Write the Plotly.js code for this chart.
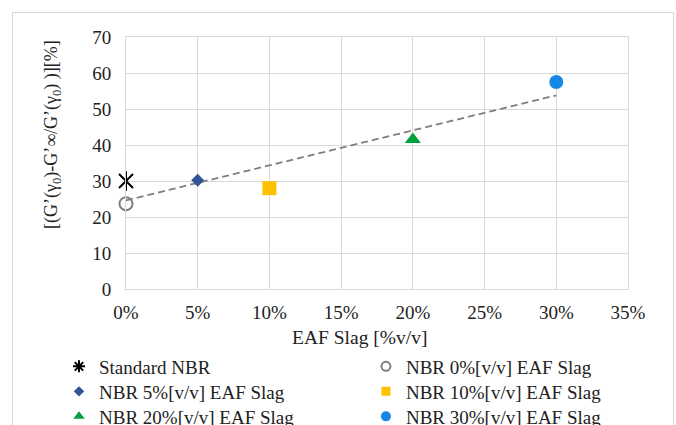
<!DOCTYPE html>
<html>
<head>
<meta charset="utf-8">
<script src="https://cdn.plot.ly/plotly-3.0.1.min.js"></script>
<style>
  html, body { margin: 0; padding: 0; background: #fff; }
  #chart { width: 676px; height: 425px; }
  #frame { position: absolute; left: 12px; top: 12px; width: 660px; height: 430px;
           border: 1.5px solid #d9d9d9; pointer-events: none; }
</style>
</head>
<body>
<div id="chart"></div>
<div id="frame"></div>
<script>
// ---- Data ----
const seriesNames = [
  "Standard NBR",
  "NBR 0%[v/v] EAF Slag",
  "NBR 5%[v/v] EAF Slag",
  "NBR 10%[v/v] EAF Slag",
  "NBR 20%[v/v] EAF Slag",
  "NBR 30%[v/v] EAF Slag"
];
const slagContent = [0, 0, 0.05, 0.10, 0.20, 0.30];      // EAF slag fraction
const decayValues = [30.0, 23.7, 30.2, 28.0, 41.5, 57.5];  // [%]
const xTickVals = [0, 0.05, 0.10, 0.15, 0.20, 0.25, 0.30, 0.35];
const xTickText = ["0%", "5%", "10%", "15%", "20%", "25%", "30%", "35%"];
const yTickVals = [0, 10, 20, 30, 40, 50, 60, 70];
const xTitle = "EAF Slag [%v/v]";
const yTitle = "[(G’(γ<sub>0</sub>)-G’∞/G’(γ<sub>0</sub>) )][%]";

// ---- Styles ----
const symbols   = ["x-thin-open", "circle-open", "diamond", "square", "triangle-up", "circle"];
const legSymbol = ["asterisk-open", "circle-open", "diamond", "square", "triangle-up", "circle"];
const colors    = ["#000000", "#808080", "#2f5597", "#ffc000", "#00a03e", "#1787e6"];
const sizes     = [14, 13, 10, 14, 14, 14];
const legSizes  = [10, 9, 8, 9, 10, 10];
const legendIds = ["legend", "legend2", "legend3", "legend4", "legend5", "legend6"];

const traces = [];

// Linear trendline: least squares over all points, drawn across the data's x range
const n = slagContent.length;
const mx = slagContent.reduce((a, b) => a + b, 0) / n;
const my = decayValues.reduce((a, b) => a + b, 0) / n;
let sxy = 0, sxx = 0;
for (let i = 0; i < n; i++) {
  sxy += (slagContent[i] - mx) * (decayValues[i] - my);
  sxx += (slagContent[i] - mx) ** 2;
}
const slope = sxy / sxx;
const intercept = my - slope * mx;
const trendX = [Math.min(...slagContent), Math.max(...slagContent)];
traces.push({
  x: trendX,
  y: trendX.map(v => intercept + slope * v),
  mode: "lines",
  line: { color: "#7f7f7f", width: 1.8, dash: "7px,4px" },
  showlegend: false,
  cliponaxis: false,
  hoverinfo: "skip"
});

for (let i = 0; i < seriesNames.length; i++) {
  const open = symbols[i].endsWith("open");
  traces.push({
    x: [slagContent[i]],
    y: [decayValues[i]],
    name: seriesNames[i],
    mode: "markers",
    showlegend: false,
    cliponaxis: false,
    marker: {
      symbol: symbols[i],
      size: sizes[i],
      color: colors[i],
      line: { color: colors[i], width: open ? 2 : 0 }
    }
  });
  if (i === 0) {
    // vertical bar of the Excel-style star marker
    traces.push({
      x: [slagContent[i]],
      y: [decayValues[i]],
      mode: "markers",
      showlegend: false,
      cliponaxis: false,
      marker: { symbol: "line-ns-open", size: 14, color: colors[i], line: { color: colors[i], width: 2 } }
    });
  }
}

// legend entries (smaller glyphs, as in the reference legend)
for (let i = 0; i < seriesNames.length; i++) {
  const open = legSymbol[i].endsWith("open");
  traces.push({
    x: [null],
    y: [null],
    name: seriesNames[i],
    mode: "markers",
    legend: legendIds[i],
    marker: {
      symbol: legSymbol[i],
      size: legSizes[i],
      color: colors[i],
      line: { color: colors[i], width: open ? 2 : 0 }
    }
  });
}

const font = "Liberation Serif";
const txt = "#222222";
const legendFont = { family: font, size: 19, color: txt };
const colX = [-0.1335, 0.478];
const rowY = [-0.2321, -0.3313, -0.4306];
function leg(col, row) {
  return {
    orientation: "v", xanchor: "left", yanchor: "top",
    x: colX[col], y: rowY[row],
    font: legendFont, bgcolor: "rgba(0,0,0,0)", itemsizing: "trace"
  };
}

const layout = {
  width: 676,
  height: 425,
  margin: { l: 126, r: 48, t: 37, b: 136, autoexpand: false },
  paper_bgcolor: "#ffffff",
  plot_bgcolor: "#ffffff",
  font: { family: font, size: 19, color: txt },
  xaxis: {
    range: [0, 0.35],
    tickvals: xTickVals,
    ticktext: xTickText,
    showgrid: true, gridcolor: "#d9d9d9", gridwidth: 1,
    showline: true, linecolor: "#d9d9d9", linewidth: 1, mirror: true,
    zeroline: false, ticks: "", ticklabelstandoff: 6, automargin: false,
    tickfont: { family: font, size: 19, color: txt }
  },
  yaxis: {
    range: [0, 70],
    tickvals: yTickVals,
    showgrid: true, gridcolor: "#d9d9d9", gridwidth: 1,
    showline: true, linecolor: "#d9d9d9", linewidth: 1, mirror: true,
    zeroline: false, ticks: "", ticklabelstandoff: 10, automargin: false,
    tickfont: { family: font, size: 19, color: txt }
  },
  annotations: [
    {
      text: xTitle, xref: "paper", yref: "paper",
      x: 0.4651, y: -0.1905, xanchor: "center", yanchor: "middle",
      showarrow: false, font: { family: font, size: 19.5, color: txt }
    },
    {
      text: yTitle, xref: "paper", yref: "paper", textangle: -90,
      x: -0.1474, y: 0.611, xanchor: "center", yanchor: "middle",
      showarrow: false, font: { family: font, size: 18, color: txt }
    }
  ],
  legend:  leg(0, 0),
  legend2: leg(1, 0),
  legend3: leg(0, 1),
  legend4: leg(1, 1),
  legend5: leg(0, 2),
  legend6: leg(1, 2),
  showlegend: true
};

Plotly.newPlot("chart", traces, layout, { displayModeBar: false, staticPlot: true });
</script>
</body>
</html>
